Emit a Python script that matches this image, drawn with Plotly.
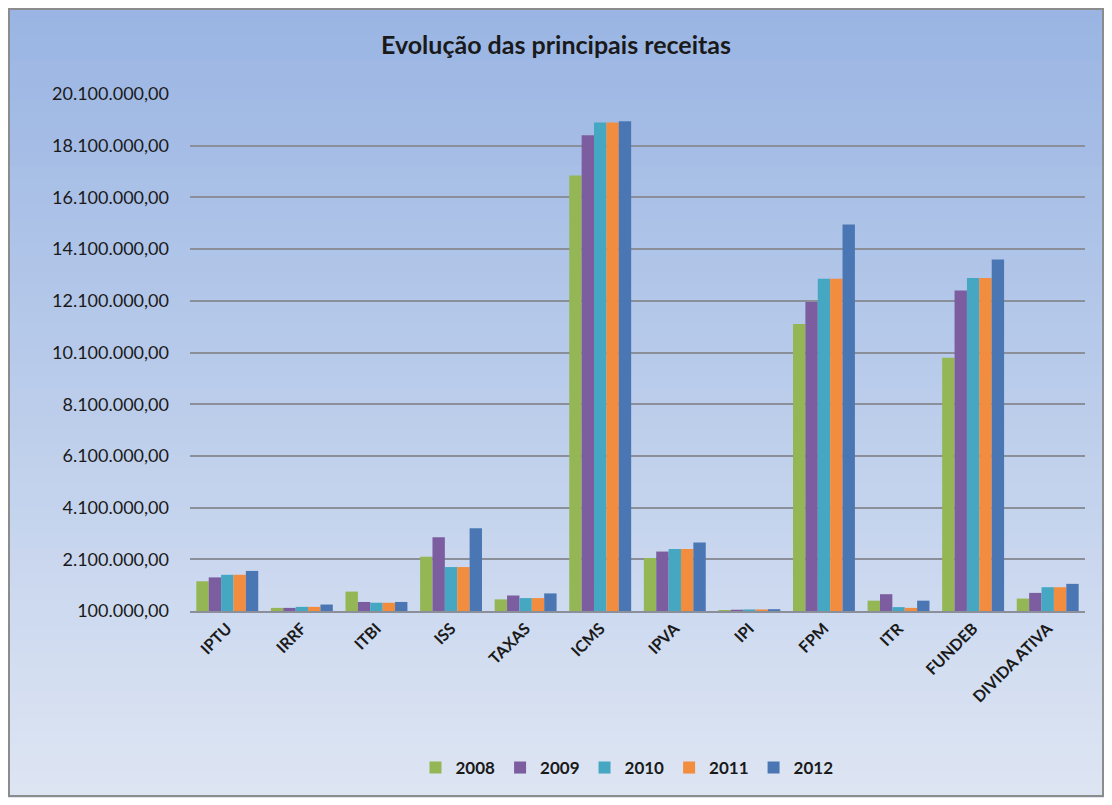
import plotly.graph_objects as go

# --- data ---
categories = ["IPTU", "IRRF", "ITBI", "ISS", "TAXAS", "ICMS",
              "IPVA", "IPI", "FPM", "ITR", "FUNDEB", "DIVIDA ATIVA"]
years = ["2008", "2009", "2010", "2011", "2012"]

v2008 = [1250000, 220000, 850000, 2200000, 550000, 16950000,
         2150000, 140000, 11200000, 500000, 9900000, 580000]
v2009 = [1400000, 220000, 450000, 2950000, 700000, 18500000,
         2400000, 150000, 12050000, 750000, 12500000, 800000]
v2010 = [1500000, 260000, 420000, 1800000, 600000, 19000000,
         2500000, 160000, 12950000, 250000, 12980000, 1020000]
v2011 = [1500000, 260000, 420000, 1800000, 600000, 19000000,
         2500000, 160000, 12950000, 220000, 12980000, 1020000]
v2012 = [1650000, 350000, 450000, 3300000, 780000, 19050000,
         2750000, 170000, 15050000, 500000, 13700000, 1150000]

series = [v2008, v2009, v2010, v2011, v2012]
colors = ["#94B654", "#7C5EA0", "#45A7C2", "#F28C3E", "#4A77B4"]

tick_vals = list(range(100000, 20100001, 2000000))

# --- layout geometry (page px; the page puts the figure 8px in) ---
OFF = 8
W, H = 1112 - OFF, 805 - OFF
ML, MR, MT, MB = 190 - OFF, 27, 94 - OFF, 194
pw, ph = W - ML - MR, H - MT - MB


def px_x(x):
    return (x - OFF - ML) / pw


def px_y(y):
    return (H - MB - (y - OFF)) / ph


fig = go.Figure()
for yr, vals, col in zip(years, series, colors):
    fig.add_trace(go.Bar(x=categories, y=vals, name="<b>" + yr + "</b>",
                         marker=dict(color=col, line=dict(width=0))))

# gradient background made of thin strips
top_c = (154, 181, 227)
bot_c = (221, 229, 243)
n = 60
y_top, y_bot = 8, 797
shapes = []
for i in range(n):
    t = i / (n - 1)
    c = tuple(round(top_c[k] + (bot_c[k] - top_c[k]) * t) for k in range(3))
    ya = y_top + (y_bot - y_top) * i / n
    yb = y_top + (y_bot - y_top) * (i + 1) / n + 1
    shapes.append(dict(type="rect", xref="paper", yref="paper",
                       x0=px_x(8), x1=px_x(1104), y0=px_y(yb), y1=px_y(ya),
                       fillcolor="rgb(%d,%d,%d)" % c, line=dict(width=0),
                       layer="below"))
# chart border
shapes.append(dict(type="rect", xref="paper", yref="paper",
                   x0=px_x(9), x1=px_x(1103), y0=px_y(796), y1=px_y(9),
                   fillcolor="rgba(0,0,0,0)", line=dict(color="#8C8C8C", width=2),
                   layer="above"))

fig.update_layout(
    width=W, height=H,
    margin=dict(l=ML, r=MR, t=MT, b=MB),
    paper_bgcolor="white",
    plot_bgcolor="rgba(0,0,0,0)",
    separators=",.",
    font=dict(family="Lato, Calibri, sans-serif", color="#1A1A1A"),
    title=dict(text="<b>Evolução das principais receitas</b>",
               x=px_x(556), xanchor="center", xref="paper",
               y=1 - (45 - OFF) / H, yanchor="middle",
               font=dict(size=25, color="#1A1A1A")),
    barmode="group", bargap=0.17, bargroupgap=0.0,
    shapes=shapes,
    legend=dict(orientation="h", x=px_x(627), xanchor="center",
                y=px_y(768), yanchor="middle",
                font=dict(size=17, color="#1A1A1A", family="Lato, sans-serif"),
                bgcolor="rgba(0,0,0,0)", itemwidth=30),
    showlegend=True,
)
fig.update_yaxes(range=[100000, 20100000], tickvals=tick_vals,
                 tickformat=",.2f", showgrid=True, gridcolor="#8A8F99",
                 gridwidth=1.5, zeroline=False, showline=False,
                 tickfont=dict(size=18), ticks="", ticklabelstandoff=20)
fig.update_xaxes(tickangle=-45, tickfont=dict(size=16, family="Lato, sans-serif"),
                 showline=True, linecolor="#8A8F99", linewidth=2,
                 tickprefix="<b>", ticksuffix="</b>", ticks="")

fig.write_html("out.html")
